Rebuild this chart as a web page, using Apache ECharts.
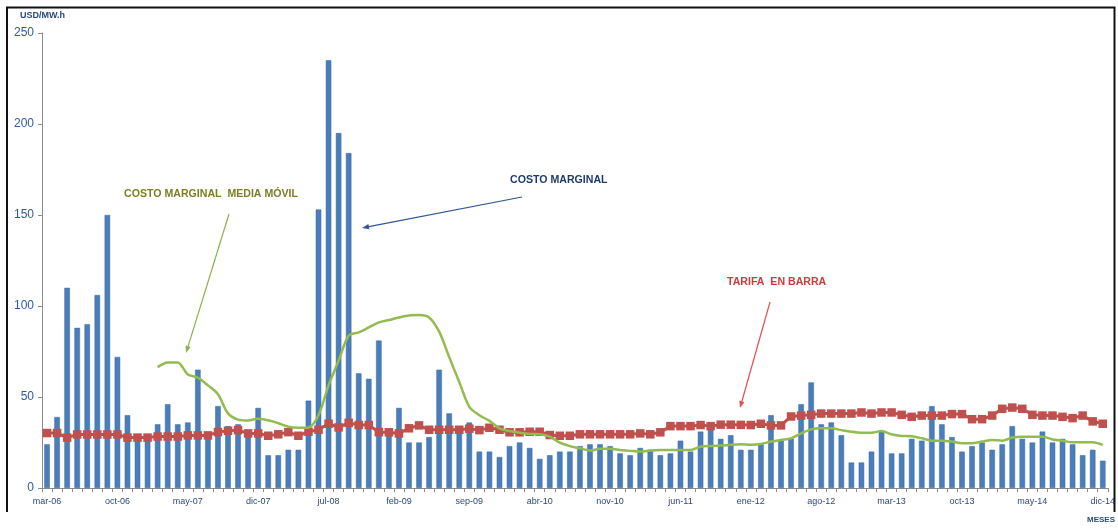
<!DOCTYPE html>
<html>
<head>
<meta charset="utf-8">
<title>Costo marginal vs tarifa en barra</title>
<script src="https://cdn.jsdelivr.net/npm/echarts@6/dist/echarts.min.js"></script>
<style>
  html, body { margin: 0; padding: 0; background: #fff; }
  #chart { width: 1118px; height: 530px; }
</style>
</head>
<body>
<div id="chart"></div>
<script>
// monthly categories mar-06 .. dic-14
const monthNames = ['ene', 'feb', 'mar', 'abr', 'may', 'jun', 'jul', 'ago', 'sep', 'oct', 'nov', 'dic'];
const months = [];
for (let y = 6; y <= 14; y++) {
  for (let m = 0; m < 12; m++) {
    if (y === 6 && m < 2) continue;
    months.push(monthNames[m] + '-' + String(y).padStart(2, '0'));
  }
}

// USD/MW.h
const costoMarginal = [
  24, 39, 110, 88, 90, 106, 150, 72, 40, 28,
  27, 35, 46, 35, 36, 65, 28, 45, 34, 35,
  30, 44, 18, 18, 21, 21, 48, 153, 235, 195,
  184, 63, 60, 81, 30, 44, 25, 25, 28, 65,
  41, 31, 36, 20, 20, 17, 23, 25, 22, 16,
  18, 20, 20, 23, 24, 24, 23, 19, 18, 22,
  21, 18, 19, 26, 20, 31, 33, 27, 29, 21,
  21, 24, 40, 26, 27, 46, 58, 35, 36, 29,
  14, 14, 20, 31, 19, 19, 27, 26, 45, 35,
  28, 20, 23, 25, 21, 24, 34, 27, 25, 31,
  25, 27, 24, 18, 21, 15
];

const tarifaBarra = [
  30.2, 30.2, 27.7, 29.4, 29.4, 29.4, 29.4, 29.4, 27.7, 27.7,
  27.7, 28.3, 28.3, 28.3, 28.9, 28.9, 28.9, 30.7, 31.4, 31.8,
  30.0, 30.0, 28.7, 29.5, 30.7, 28.7, 30.9, 32.0, 35.3, 33.3,
  35.8, 34.6, 34.6, 30.7, 30.6, 30.0, 32.8, 34.4, 32.0, 32.0,
  32.0, 32.0, 32.6, 31.8, 33.1, 32.0, 30.6, 30.6, 30.9, 30.9,
  29.1, 28.7, 28.7, 29.5, 29.5, 29.5, 29.5, 29.5, 29.5, 30.0,
  29.5, 30.6, 34.0, 34.0, 34.0, 34.6, 34.0, 34.8, 34.8, 34.7,
  34.6, 35.3, 34.4, 34.4, 39.3, 39.8, 40.2, 40.9, 40.9, 40.9,
  40.9, 41.5, 40.9, 41.5, 41.5, 40.2, 39.1, 39.8, 39.8, 39.8,
  40.6, 40.6, 37.8, 37.8, 39.8, 43.5, 44.2, 43.5, 40.2, 39.8,
  39.8, 39.1, 38.4, 39.8, 36.6, 35.3
];

const mediaMovil = [
  null, null, null, null, null, null, null, null, null, null,
  null, 66.4, 69.0, 69.0, 62.4, 60.6, 56.4, 51.5, 41.0, 37.6,
  37.1, 38.1, 37.2, 35.6, 33.7, 33.1, 33.3, 40.0, 56.4, 70.0,
  83.7, 85.5, 88.2, 91.0, 92.3, 93.7, 94.8, 95.0, 93.7, 85.9,
  71.9, 58.2, 44.6, 40.0, 36.9, 32.8, 31.3, 30.4, 29.7, 29.5,
  28.2, 24.9, 23.0, 21.8, 20.6, 21.5, 21.5, 20.9, 20.4, 20.0,
  20.6, 20.9, 20.9, 20.9, 20.9, 22.7, 23.1, 23.3, 23.7, 24.0,
  23.8, 24.2, 25.5, 26.4, 27.3, 30.0, 32.2, 32.8, 32.8, 31.8,
  30.9, 30.4, 30.4, 31.3, 29.5, 28.6, 28.4, 27.3, 26.0, 26.0,
  25.5, 24.6, 24.6, 25.5, 26.4, 26.0, 27.7, 28.2, 28.2, 28.2,
  26.7, 26.0, 25.1, 25.1, 25.1, 23.7
];

const yTicks = { min: 0, max: 250, step: 50 };

// arrow from (x1,y1) to (x2,y2), head at the end
function arrow(x1, y1, x2, y2, color) {
  const a = Math.atan2(y2 - y1, x2 - x1);
  const len = 7, half = 2.6;
  const bx = x2 - len * Math.cos(a), by = y2 - len * Math.sin(a);
  const px = -Math.sin(a) * half, py = Math.cos(a) * half;
  return [
    { type: 'line', shape: { x1: x1, y1: y1, x2: bx, y2: by }, style: { stroke: color, lineWidth: 1.2 } },
    { type: 'polygon', shape: { points: [[x2, y2], [bx + px, by + py], [bx - px, by - py]] }, style: { fill: color } }
  ];
}

const chart = echarts.init(document.getElementById('chart'));
const labelFont = '"Liberation Sans", Arial, sans-serif';

chart.setOption({
  animation: false,
  backgroundColor: '#fff',
  textStyle: { fontFamily: labelFont },
  grid: { left: 42, right: 8.6, top: 33, bottom: 42, containLabel: false },
  xAxis: {
    type: 'category',
    data: months,
    boundaryGap: true,
    axisLine: { lineStyle: { color: '#8c8c8c', width: 1 } },
    axisTick: { show: true, interval: 0, length: 4, lineStyle: { color: '#8c8c8c' } },
    axisLabel: { interval: 6, color: '#2c4a7a', fontSize: 9, margin: 9 },
    splitLine: { show: false }
  },
  yAxis: {
    type: 'value',
    min: yTicks.min,
    max: yTicks.max,
    interval: yTicks.step,
    axisLine: { show: true, lineStyle: { color: '#8c8c8c' } },
    axisTick: { show: true, length: 4, lineStyle: { color: '#8c8c8c' } },
    axisLabel: { color: '#2c5aa0', fontSize: 12, margin: 8 },
    splitLine: { show: false }
  },
  series: [
    {
      name: 'Costo Marginal',
      type: 'bar',
      data: costoMarginal,
      barWidth: 5.5,
      itemStyle: { color: '#4a7ebb', borderColor: '#3a68a0', borderWidth: 0.5 },
      z: 2
    },
    {
      name: 'Tarifa en Barra',
      type: 'line',
      data: tarifaBarra,
      symbol: 'rect',
      symbolSize: 8.5,
      showSymbol: true,
      showAllSymbol: true,
      itemStyle: { color: '#c0504d' },
      lineStyle: { color: '#c0504d', width: 3 },
      z: 3
    },
    {
      name: 'Costo Marginal Media Móvil',
      type: 'line',
      data: mediaMovil,
      smooth: 0.3,
      showSymbol: false,
      connectNulls: false,
      lineStyle: { color: '#92bd4e', width: 2.5 },
      z: 4
    }
  ],
  graphic: [
    // frame
    { type: 'polyline', shape: { points: [[7, 512], [7, 7.5], [1114.5, 7.5], [1114.5, 512]] },
      style: { stroke: '#111', lineWidth: 2, fill: null } },
    { type: 'text', left: 20, top: 11,
      style: { text: 'USD/MW.h', fill: '#2c4a7a', font: 'bold 9px ' + labelFont } },
    { type: 'text', left: 1087, top: 516,
      style: { text: 'MESES', fill: '#2c4a7a', font: 'bold 8px ' + labelFont } },
    { type: 'text', left: 124, top: 189,
      style: { text: 'COSTO MARGINAL  MEDIA MÓVIL', fill: '#7d7d22', font: 'bold 10.6px ' + labelFont } },
    { type: 'text', left: 510, top: 175,
      style: { text: 'COSTO MARGINAL', fill: '#1f3b6e', font: 'bold 10.6px ' + labelFont } },
    { type: 'text', left: 727, top: 277,
      style: { text: 'TARIFA  EN BARRA', fill: '#d03a3a', font: 'bold 10.6px ' + labelFont } }
  ]
    .concat(arrow(229, 214, 186, 353, '#8bb04a'))
    .concat(arrow(522, 197, 362, 228, '#2f5597'))
    .concat(arrow(770, 302, 740, 408, '#e05050'))
});
</script>
</body>
</html>
